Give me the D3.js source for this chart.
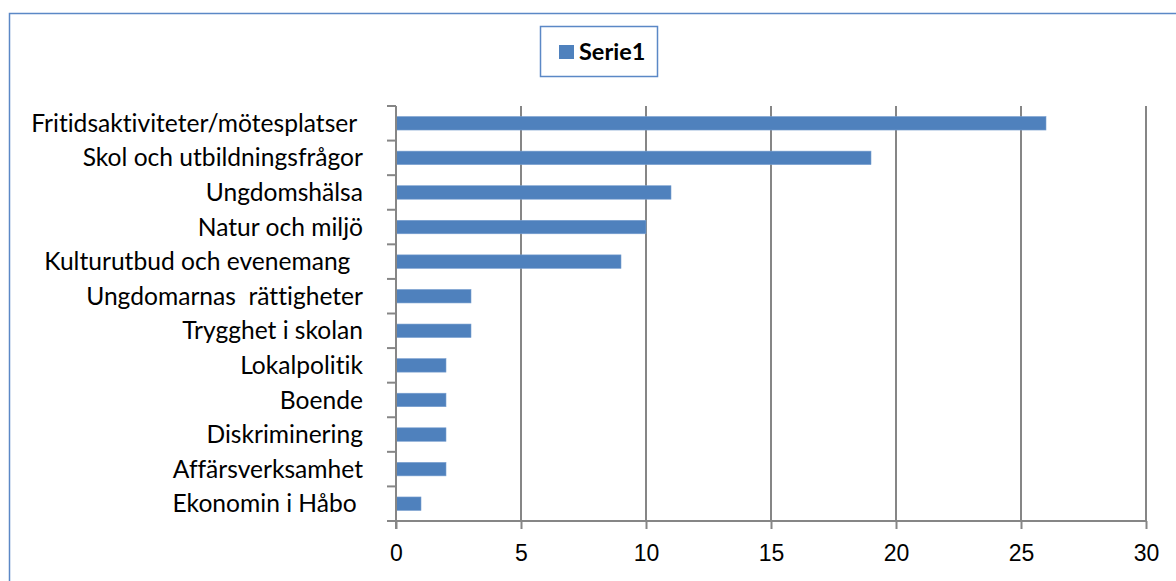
<!DOCTYPE html>
<html>
<head>
<meta charset="utf-8">
<script src="https://cdn.jsdelivr.net/npm/d3@7"></script>
<style>
  body { margin: 0; background: #fff; }
  svg { font-family: Lato, "Open Sans", sans-serif; font-variant-ligatures: none; }
  text { white-space: pre; }
</style>
</head>
<body>
<div id="chart"></div>
<script>

// data, top to bottom as in the picture
var categories = [
  "Fritidsaktiviteter/mötesplatser ",
  "Skol och utbildningsfrågor",
  "Ungdomshälsa",
  "Natur och miljö",
  "Kulturutbud och evenemang  ",
  "Ungdomarnas  rättigheter",
  "Trygghet i skolan",
  "Lokalpolitik",
  "Boende",
  "Diskriminering",
  "Affärsverksamhet",
  "Ekonomin i Håbo "
];
var values = [26, 19, 11, 10, 9, 3, 3, 2, 2, 2, 2, 1];
var xTicks = [0, 5, 10, 15, 20, 25, 30];
var seriesName = "Serie1";

var W = 1176, H = 581;
var blue = "#4f81bd", grey = "#868686";
var plot = { left: 396, right: 1146, top: 106, bottom: 521 };

var svg = d3.select("#chart").append("svg")
  .attr("width", W)
  .attr("height", H);

// outer frame
svg.append("rect")
  .attr("x", 9.5).attr("y", 13.5)
  .attr("width", W + 20).attr("height", H + 20)
  .attr("fill", "#fff")
  .attr("stroke", "#5b88c6")
  .attr("stroke-width", 1.5);

var x = d3.scaleLinear().domain([0, 30]).range([plot.left, plot.right]);
var y = d3.scaleBand().domain(categories).range([plot.top, plot.bottom]).paddingInner(0.61).paddingOuter(0.305);
var yb = d3.scaleBand().domain(categories).range([plot.top, plot.bottom]);

// vertical gridlines
svg.append("g").selectAll("line")
  .data(xTicks.slice(1))
  .enter().append("line")
  .attr("x1", d => x(d)).attr("x2", d => x(d))
  .attr("y1", plot.top).attr("y2", plot.bottom)
  .attr("stroke", grey).attr("stroke-width", 2);

// bars
svg.append("g").selectAll("rect")
  .data(values)
  .enter().append("rect")
  .attr("x", x(0))
  .attr("y", (d, i) => y(categories[i]))
  .attr("width", d => x(d) - x(0))
  .attr("height", y.bandwidth())
  .attr("fill", blue)
  .attr("stroke", "#7aa0d0")
  .attr("stroke-width", 0.6);

// x axis
var xAxis = svg.append("g")
  .attr("transform", "translate(0," + plot.bottom + ")")
  .call(d3.axisBottom(x).tickValues(xTicks).tickSize(8).tickPadding(16));
xAxis.select(".domain").remove();
xAxis.append("line")
  .attr("x1", plot.left - 9).attr("x2", plot.right)
  .attr("stroke", grey).attr("stroke-width", 2);
xAxis.selectAll(".tick line").attr("stroke", grey).attr("stroke-width", 2);
xAxis.selectAll(".tick text")
  .attr("fill", "#000")
  .style("font-size", "23px");

// y axis: line and ticks on band edges
var yAxis = svg.append("g");
yAxis.append("line")
  .attr("x1", plot.left).attr("x2", plot.left)
  .attr("y1", plot.top).attr("y2", plot.bottom + 8)
  .attr("stroke", grey).attr("stroke-width", 2);
yAxis.selectAll(".edge")
  .data(categories)
  .enter().append("line")
  .attr("class", "edge")
  .attr("x1", plot.left - 9).attr("x2", plot.left)
  .attr("y1", d => yb(d)).attr("y2", d => yb(d))
  .attr("stroke", grey).attr("stroke-width", 2);
yAxis.selectAll("text")
  .data(categories)
  .enter().append("text")
  .attr("x", 363)
  .attr("y", d => yb(d) + yb.bandwidth() / 2)
  .attr("dy", "0.35em")
  .attr("text-anchor", "end")
  .style("font-size", "24.6px")
  .text(d => d);

// legend
var lg = svg.append("g");
lg.append("rect")
  .attr("x", 540.5).attr("y", 26.5)
  .attr("width", 117).attr("height", 50)
  .attr("fill", "#fff")
  .attr("stroke", "#5b88c6")
  .attr("stroke-width", 1.5);
lg.append("rect")
  .attr("x", 559).attr("y", 45)
  .attr("width", 15).attr("height", 14)
  .attr("fill", blue);
lg.append("text")
  .attr("x", 579).attr("y", 60)
  .style("font-size", "23.5px")
  .style("font-weight", "bold")
  .text(seriesName);

</script>
</body>
</html>
